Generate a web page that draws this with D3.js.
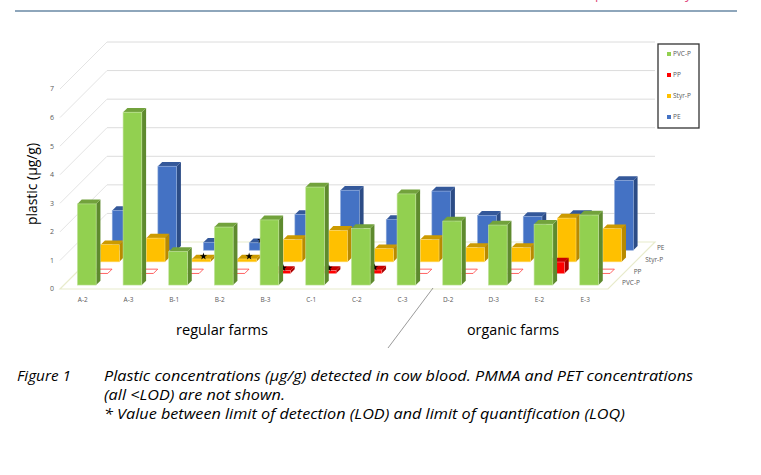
<!DOCTYPE html>
<html>
<head>
<meta charset="utf-8">
<script src="https://cdn.jsdelivr.net/npm/d3@7"></script>
<style>
  body { margin: 0; background: #fff; }
  text { font-family: "Open Sans", sans-serif; }
</style>
</head>
<body>
<div id="chart"></div>
<script>
// data (µg/g)
var categories = ["A-2", "A-3", "B-1", "B-2", "B-3", "C-1", "C-2", "C-3", "D-2", "D-3", "E-2", "E-3"];
var seriesNames = ["PVC-P", "PP", "Styr-P", "PE"];
var pvcValues  = [2.84, 6.05, 1.17, 2.03, 2.28, 3.43, 1.98, 3.19, 2.24, 2.10, 2.13, 2.45];
var ppValues   = [0, 0, 0, 0, 0.10, 0.10, 0.12, 0, 0, 0, 0.40, 0];
var styrValues = [0.60, 0.83, 0.10, 0.10, 0.78, 1.10, 0.46, 0.78, 0.50, 0.50, 1.53, 1.16];
var peValues   = [1.39, 2.94, 0.28, 0.26, 1.25, 2.10, 1.07, 2.07, 1.22, 1.18, 1.25, 2.44];
var yTicks = [0, 1, 2, 3, 4, 5, 6, 7];
// values between LOD and LOQ (marked with *)
var loqMarks = [["Styr-P", "B-1"], ["Styr-P", "B-2"], ["PE", "B-2"], ["PP", "B-3"], ["PP", "C-1"], ["PP", "C-2"]];
var groupLabels = ["regular farms", "organic farms"];
var captionLines = [
  "Plastic concentrations (µg/g) detected in cow blood. PMMA and PET concentrations",
  "(all <LOD) are not shown.",
  "* Value between limit of detection (LOD) and limit of quantification (LOQ)"
];

var seriesValues = [pvcValues, ppValues, styrValues, peValues];
var colors = {
  "PVC-P":  { front: "#92d050", top: "#72a23c", side: "#5e8a2e", edge: "#c2e39d" },
  "PP":     { front: "#ff0000", top: "#c80000", side: "#a80000", edge: "#ff8080" },
  "Styr-P": { front: "#ffc000", top: "#cc9a00", side: "#b88a00", edge: "#ffdb70" },
  "PE":     { front: "#4472c4", top: "#34589a", side: "#2c4c86", edge: "#8eaadb" }
};

var width = 761, height = 475;
var floorDepth = 47;

var svg = d3.select("#chart").append("svg")
  .attr("width", width)
  .attr("height", height);

// header rule and clipped heading above it
svg.append("line")
  .attr("x1", 15).attr("x2", 737).attr("y1", 11).attr("y2", 11)
  .attr("stroke", "#1f4e79").attr("stroke-width", 1.2);
svg.append("text").attr("x", 595).attr("y", -1).attr("fill", "#e0457b")
  .style("font-size", "13px").text("p");
svg.append("text").attr("x", 685).attr("y", -1).attr("fill", "#e0457b")
  .style("font-size", "13px").text("y");

var x = d3.scaleBand()
  .domain(categories)
  .range([60, 608])
  .paddingInner(0.59)
  .paddingOuter(0.295);

var z = d3.scaleBand()
  .domain(seriesNames)
  .range([0, floorDepth])
  .paddingInner(0.63)
  .paddingOuter(0.34);

var y = d3.scaleLinear().domain([0, 7]).range([289, 89]);

// oblique projection: depth moves right and up
function pt(xv, v, d) { return [xv + d, y(v) - d]; }
function poly(points) { return points.map(function (p) { return p.join(","); }).join(" "); }

var x0 = x.range()[0], x1 = x.range()[1];

// floor
svg.append("polygon")
  .attr("points", poly([pt(x0, 0, 0), pt(x1, 0, 0), pt(x1, 0, floorDepth), pt(x0, 0, floorDepth)]))
  .attr("fill", "#fff").attr("stroke", "#e8ebcb").attr("stroke-width", 1.2);

// back wall gridlines and side wall lines
var grid = svg.append("g");
grid.selectAll(".back").data(yTicks.slice(1)).enter().append("line")
  .attr("x1", function (t) { return pt(x0, t, floorDepth)[0]; })
  .attr("y1", function (t) { return pt(x0, t, floorDepth)[1]; })
  .attr("x2", function (t) { return pt(x1, t, floorDepth)[0]; })
  .attr("y2", function (t) { return pt(x1, t, floorDepth)[1]; })
  .attr("stroke", "#dcdcdc").attr("stroke-width", 1);
grid.selectAll(".side").data(yTicks.slice(1)).enter().append("line")
  .attr("x1", function (t) { return pt(x0, t, 0)[0]; })
  .attr("y1", function (t) { return pt(x0, t, 0)[1]; })
  .attr("x2", function (t) { return pt(x0, t, floorDepth)[0]; })
  .attr("y2", function (t) { return pt(x0, t, floorDepth)[1]; })
  .attr("stroke", "#e4e4e4").attr("stroke-width", 1);

// y tick labels
svg.append("g").selectAll("text").data(yTicks).enter().append("text")
  .attr("x", 54)
  .attr("y", function (t) { return y(t); })
  .attr("dy", "0.35em")
  .attr("text-anchor", "end")
  .attr("fill", "#595959")
  .style("font-size", "7px")
  .text(function (t) { return t; });

// bars, back row first
var w = x.bandwidth(), dd = z.bandwidth();
var bars = svg.append("g");
seriesNames.slice().reverse().forEach(function (s) {
  var k = seriesNames.indexOf(s);
  var c = colors[s];
  var d0 = z(s);
  categories.forEach(function (cat, i) {
    var v = seriesValues[k][i];
    var bx = x(cat);
    var g = bars.append("g");
    if (v === 0) {
      // below LOD: empty outline on the floor
      g.append("polygon")
        .attr("points", poly([pt(bx, 0, d0), pt(bx + w, 0, d0), pt(bx + w, 0, d0 + dd), pt(bx, 0, d0 + dd)]))
        .attr("fill", "#fff").attr("stroke", "#ff3b3b").attr("stroke-width", 0.8);
      return;
    }
    g.append("polygon")
      .attr("points", poly([pt(bx + w, v, d0), pt(bx + w, v, d0 + dd), pt(bx + w, 0, d0 + dd), pt(bx + w, 0, d0)]))
      .attr("fill", c.side);
    g.append("polygon")
      .attr("points", poly([pt(bx, v, d0), pt(bx + w, v, d0), pt(bx + w, v, d0 + dd), pt(bx, v, d0 + dd)]))
      .attr("fill", c.top);
    g.append("rect")
      .attr("x", pt(bx, v, d0)[0])
      .attr("y", pt(bx, v, d0)[1])
      .attr("width", w)
      .attr("height", y(0) - y(v))
      .attr("fill", c.front)
      .attr("stroke", c.edge).attr("stroke-width", 0.6);
    var marked = loqMarks.some(function (m) { return m[0] === s && m[1] === cat; });
    if (marked) {
      var sp = pt(bx + w / 2, v, d0 + dd / 2);
      g.append("path")
        .attr("d", d3.symbol().type(d3.symbolStar).size(16)())
        .attr("transform", "translate(" + sp[0] + "," + (sp[1] - 0.5) + ")")
        .attr("fill", "#000");
    }
  });
});

// category labels
svg.append("g").selectAll("text").data(categories).enter().append("text")
  .attr("x", function (c) { return x(c) + w / 2; })
  .attr("y", 302)
  .attr("text-anchor", "middle")
  .attr("fill", "#595959")
  .style("font-size", "6.5px")
  .text(function (c) { return c; });

// depth axis labels
svg.append("g").selectAll("text").data(seriesNames).enter().append("text")
  .attr("x", function (s) { return x1 + z(s) + dd / 2 + 8; })
  .attr("y", function (s) { return y(0) - z(s) - dd / 2; })
  .attr("dy", "0.35em")
  .attr("fill", "#595959")
  .style("font-size", "6.5px")
  .text(function (s) { return s; });

// y axis title
svg.append("text")
  .attr("transform", "translate(37,184) rotate(-90)")
  .attr("text-anchor", "middle")
  .attr("textLength", 82).attr("lengthAdjust", "spacingAndGlyphs")
  .style("font-size", "14px")
  .text("plastic (µg/g)");

// legend
var legend = svg.append("g");
legend.append("rect")
  .attr("x", 658).attr("y", 44).attr("width", 41).attr("height", 84)
  .attr("fill", "#fff").attr("stroke", "#333").attr("stroke-width", 1.3);
var items = legend.selectAll(".item").data(seriesNames).enter().append("g")
  .attr("transform", function (s, i) { return "translate(667," + (54 + i * 21) + ")"; });
items.append("rect")
  .attr("x", 0).attr("y", -2).attr("width", 4).attr("height", 4)
  .attr("fill", function (s) { return colors[s].front; });
items.append("text")
  .attr("x", 6).attr("y", 0).attr("dy", "0.35em")
  .attr("fill", "#595959")
  .style("font-size", "6.5px")
  .text(function (s) { return s; });

// group labels and separator
svg.append("line")
  .attr("x1", 433).attr("y1", 288).attr("x2", 388).attr("y2", 348)
  .attr("stroke", "#808080").attr("stroke-width", 0.8);
var groupX = [222, 513];
svg.append("g").selectAll("text").data(groupLabels).enter().append("text")
  .attr("x", function (d, i) { return groupX[i]; })
  .attr("y", 335)
  .attr("text-anchor", "middle")
  .attr("textLength", 92).attr("lengthAdjust", "spacingAndGlyphs")
  .style("font-size", "14px")
  .text(function (d) { return d; });

// caption: same horizontal squeeze on every line, first line spans 589px
var cap = svg.append("g").style("font-style", "italic").style("font-size", "14px");
cap.append("text").attr("x", 17).attr("y", 381)
  .attr("textLength", 54).attr("lengthAdjust", "spacingAndGlyphs")
  .text("Figure 1");
var capY = [381, 400, 419];
var capText = cap.selectAll(".line").data(captionLines).enter().append("text")
  .attr("x", 104)
  .attr("y", function (d, i) { return capY[i]; })
  .text(function (d) { return d; });
var natural = capText.nodes().map(function (n) { return n.getComputedTextLength(); });
var squeeze = 589 / natural[0];
capText
  .attr("textLength", function (d, i) { return natural[i] * squeeze; })
  .attr("lengthAdjust", "spacingAndGlyphs");
</script>
</body>
</html>
